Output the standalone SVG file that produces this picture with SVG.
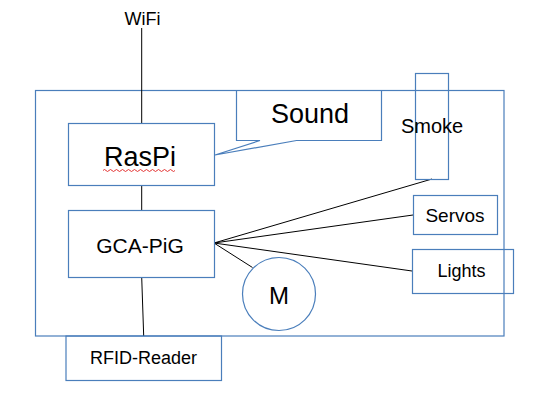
<svg xmlns="http://www.w3.org/2000/svg" width="544" height="402" viewBox="0 0 544 402">
<style>
.box{fill:none;stroke:#4a7ebb;stroke-width:1.2}
.ln{fill:none;stroke:#000;stroke-width:1}
text{font-family:"Liberation Sans",Arial,sans-serif;fill:#000;text-anchor:middle}
</style>
<rect width="544" height="402" fill="#fff"/>
<g id="frame"><rect class="box" x="35.5" y="90.5" width="468.5" height="245.5"/></g>
<g id="connectors">
<line class="ln" x1="141.7" y1="28" x2="141.7" y2="123"/>
<line class="ln" x1="141.7" y1="185" x2="141.7" y2="210"/>
<line class="ln" x1="141.7" y1="277" x2="143.7" y2="336"/>
<line class="ln" x1="214" y1="243" x2="432" y2="179"/>
<line class="ln" x1="214" y1="243" x2="413" y2="215"/>
<line class="ln" x1="214" y1="243" x2="412" y2="271"/>
<line class="ln" x1="214" y1="243" x2="252.5" y2="267.5"/>
</g>
<g id="wifi"><text x="142.5" y="25" font-size="18">WiFi</text></g>
<g id="raspi">
<rect class="box" x="68.5" y="123.5" width="146" height="62"/>
<text x="140" y="166" font-size="27">RasPi</text>
<path d="M103 170.5 q1.5 -2 3 0 t3 0 t3 0 t3 0 t3 0 t3 0 t3 0 t3 0 t3 0 t3 0 t3 0 t3 0 t3 0 t3 0 t3 0 t3 0 t3 0 t3 0 t3 0 t3 0 t3 0 t3 0 t3 0 t3 0" fill="none" stroke="#e02020" stroke-width="0.9"/>
</g>
<g id="sound">
<path class="box" d="M236.5 90.5 H381.5 V140.5 H296.5 L215 155 L260 140.5 H236.5 Z"/>
<text x="310" y="123" font-size="27">Sound</text>
</g>
<g id="smoke">
<rect class="box" x="415.5" y="73.5" width="33" height="106"/>
<text x="432" y="133" font-size="20">Smoke</text>
</g>
<g id="servos">
<rect class="box" x="413.5" y="195.5" width="84" height="39"/>
<text x="455" y="222" font-size="19">Servos</text>
</g>
<g id="lights">
<rect class="box" x="412.5" y="249.5" width="101" height="44"/>
<text x="461.5" y="277" font-size="18">Lights</text>
</g>
<g id="gcapig">
<rect class="box" x="68.5" y="210.5" width="146" height="67"/>
<text x="140" y="253" font-size="21">GCA-PiG</text>
</g>
<g id="motor">
<circle class="box" cx="279" cy="294" r="36.5"/>
<text x="279" y="303.5" font-size="24">M</text>
</g>
<g id="rfid">
<rect class="box" x="66" y="336" width="155.5" height="44.5"/>
<text x="143.5" y="364" font-size="18">RFID-Reader</text>
</g>
</svg>
